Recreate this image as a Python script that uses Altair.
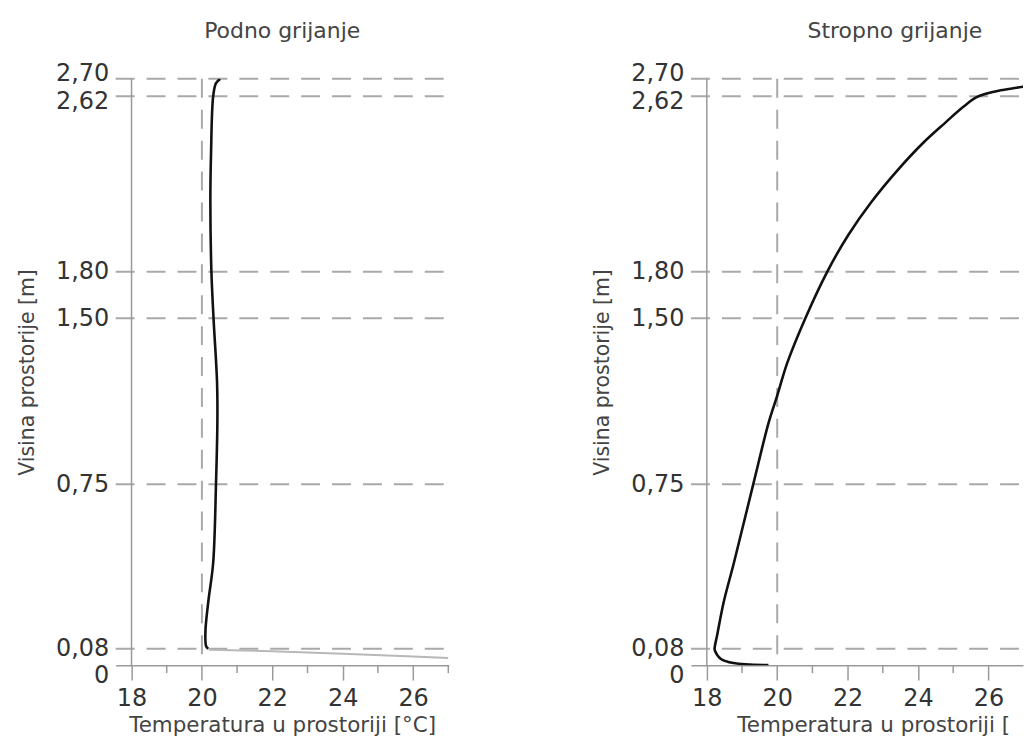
import altair as alt
import pandas as pd

# ---------------- data ----------------
height_marks = [0, 0.08, 0.75, 1.50, 1.80, 2.62, 2.70]
dashed_heights = [2.70, 2.62, 1.80, 1.50, 0.75, 0.08]
ref_temp = [20]
axis_temp = [18]

major_ticks = [18, 20, 22, 24, 26]
minor_ticks = [19, 21, 23, 25, 27]

# Podno grijanje (floor heating) - air temperature profile
floor_T = [20.18, 20.12, 20.10, 20.18, 20.32, 20.40, 20.44, 20.43, 20.33, 20.27, 20.24, 20.26, 20.32, 20.40, 20.52]
floor_h = [0.08, 0.09, 0.15, 0.27, 0.43, 0.75, 1.04, 1.21, 1.50, 1.80, 2.13, 2.36, 2.62, 2.68, 2.70]
# near-floor layer (grey line)
floor_layer_T = [20.2, 22.0, 24.0, 26.0, 27.0]
floor_layer_h = [0.075, 0.068, 0.055, 0.042, 0.035]

# Stropno grijanje (ceiling heating)
ceil_T = [19.75, 18.76, 18.40, 18.23, 18.22, 18.30, 18.48, 18.77, 19.32, 19.76, 20.00, 20.29, 20.80,
          21.42, 22.02, 22.67, 23.41, 24.15, 24.77, 25.28, 25.68, 26.19, 26.67, 27.18, 28.03, 28.88]
ceil_h = [0.00, 0.01, 0.03, 0.07, 0.08, 0.14, 0.27, 0.43, 0.75, 1.03, 1.15, 1.30, 1.50,
          1.80, 1.972, 2.125, 2.273, 2.403, 2.496, 2.570, 2.617, 2.642, 2.656, 2.668, 2.685, 2.694]

# ---------------- layout / style ----------------
FONT = "DejaVu Sans"
H = 588
Y_RANGE = [588, 571.5, 406.5, 240, 193.5, 17.5, 0]   # piecewise (schematic) vertical scale
X_START = 17.55
PX_PER_DEG = 35.3
GRID = "#a9a9a9"
AXIS = "#9a9a9a"


def panel(title, W, xtitle_opts, title_dx, black_T, black_h, grey_T=None, grey_h=None):
    x_max = X_START + W / PX_PER_DEG
    xs = alt.Scale(domain=[X_START, x_max], nice=False, zero=False)
    ys = alt.Scale(domain=height_marks, range=Y_RANGE, nice=False, zero=False)
    xaxis = alt.Axis(values=major_ticks, format="d", title="Temperatura u prostoriji [°C]", grid=False,
                     domainColor=AXIS, domainWidth=1.5, tickColor=AXIS, tickWidth=1.5, tickSize=15,
                     labelFont=FONT, labelFontSize=24, labelColor="#333", labelPadding=6,
                     titleFont=FONT, titleFontSize=21.5, titleFontWeight="normal", titleColor="#444",
                     titlePadding=5, **xtitle_opts)
    yaxis = alt.Axis(values=height_marks,
                     labelExpr="datum.value == 0 ? '0' : replace(format(datum.value, '.2f'), '.', ',')",
                     title="Visina prostorije [m]", grid=False, domain=False, ticks=False,
                     labelFont=FONT, labelFontSize=24, labelColor="#333", labelPadding=7,
                     labelOverlap=False,
                     labelOffset={"condition": [{"test": "datum.value == 2.7", "value": -5},
                                                {"test": "datum.value == 2.62", "value": 5},
                                                {"test": "datum.value == 0", "value": 10}],
                                  "value": 0},
                     titleFont=FONT, titleFontSize=20.5, titleFontWeight="normal", titleColor="#444",
                     titlePadding=18)

    hl = alt.Chart(pd.DataFrame({"h": dashed_heights})).mark_rule(
        color=GRID, strokeWidth=2, strokeDash=[19, 12]).encode(
        y=alt.Y("h:Q", scale=ys, axis=yaxis), x=alt.value(0), x2=alt.value(W))
    vl = alt.Chart(pd.DataFrame({"t": ref_temp})).mark_rule(
        color=GRID, strokeWidth=2, strokeDash=[19, 12]).encode(
        x=alt.X("t:Q", scale=xs, axis=xaxis), y=alt.value(0), y2=alt.value(H))
    ax = alt.Chart(pd.DataFrame({"t": axis_temp})).mark_rule(
        color=AXIS, strokeWidth=1.5).encode(
        x=alt.X("t:Q", scale=xs, axis=xaxis), y=alt.value(0), y2=alt.value(H))
    vis_minor = pd.DataFrame({"t": [t for t in minor_ticks if t <= x_max + 1e-9]})
    mt = alt.Chart(vis_minor).mark_rule(color=AXIS, strokeWidth=1.5).encode(
        x=alt.X("t:Q", scale=xs, axis=xaxis), y=alt.value(H), y2=alt.value(H + 8))
    layers = [hl, vl, ax, mt]
    if grey_T is not None:
        g = pd.DataFrame({"T": grey_T, "h": grey_h, "i": range(len(grey_T))})
        layers.append(alt.Chart(g).mark_line(color="#b8b8b8", strokeWidth=2, clip=True).encode(
            x=alt.X("T:Q", scale=xs, axis=xaxis), y=alt.Y("h:Q", scale=ys, axis=yaxis),
            order=alt.Order("i:Q")))
    b = pd.DataFrame({"T": black_T, "h": black_h, "i": range(len(black_T))})
    layers.append(alt.Chart(b).mark_line(color="#111111", strokeWidth=2.6,
                                         interpolate="catmull-rom", clip=True).encode(
        x=alt.X("T:Q", scale=xs, axis=xaxis), y=alt.Y("h:Q", scale=ys, axis=yaxis),
        order=alt.Order("i:Q")))
    return alt.layer(*layers).properties(
        width=W, height=H,
        title=alt.TitleParams(title, font=FONT, fontSize=22, fontWeight="normal", color="#444",
                              anchor="middle", frame="group", offset=19, dx=title_dx))


left = panel("Podno grijanje", 334, {}, 0, floor_T, floor_h, floor_layer_T, floor_layer_h)
right = panel("Stropno grijanje", 333,
              {"titleX": 46, "titleAlign": "left", "titleLimit": 284}, 38,
              ceil_T, ceil_h)

chart = alt.hconcat(left, right, spacing=143).properties(
    padding={"left": 9, "top": 11, "right": 0, "bottom": 0}
).configure(style={"guide-title": {"ellipsis": "\u200b"}}).configure_view(stroke=None)

chart.save("out.html", embed_options={"renderer": "svg", "actions": False})
